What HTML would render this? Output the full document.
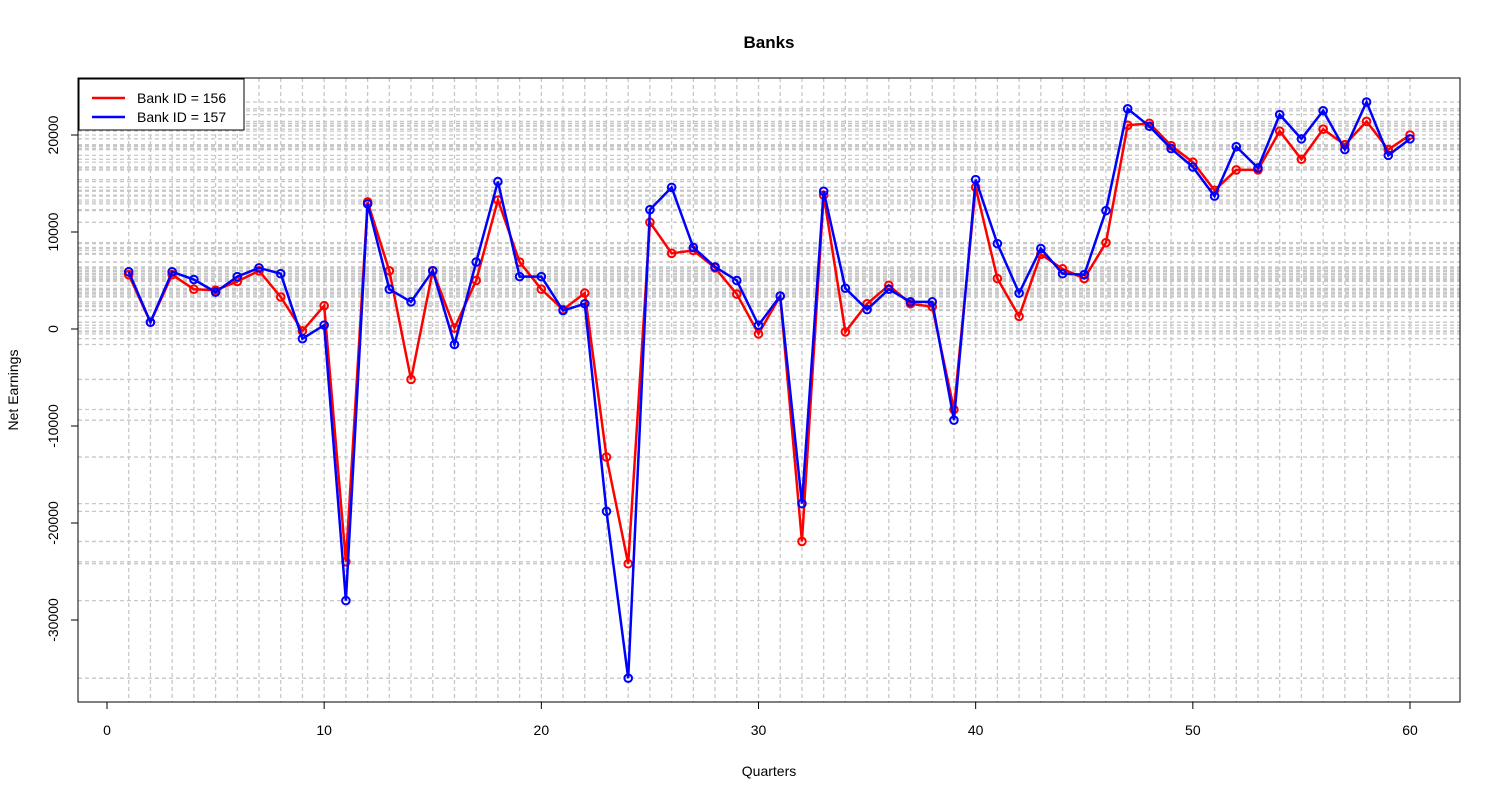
<!DOCTYPE html>
<html><head><meta charset="utf-8"><style>
body{margin:0;background:#fff;}
svg{font-family:"Liberation Sans",Arial,sans-serif;}
</style></head><body>
<svg id="chart" width="1500" height="800" xmlns="http://www.w3.org/2000/svg"></svg>
<script>
const quarters = Array.from({length:60},(_,i)=>i+1);
const bank156 = [5600,700,5600,4100,4000,4900,6000,3300,-200,2400,-24000,13100,6000,-5200,6000,100,5000,13300,6900,4100,2000,3700,-13200,-24200,11000,7800,8100,6300,3600,-500,3400,-21900,13800,-300,2600,4500,2600,2300,-8300,14600,5200,1300,7700,6200,5200,8900,21000,21200,18900,17200,14300,16400,16400,20400,17500,20600,19000,21400,18500,20000];
const bank157 = [5900,700,5900,5100,3800,5400,6300,5700,-1000,400,-28000,12900,4100,2800,6000,-1600,6900,15200,5400,5400,1900,2600,-18800,-36000,12300,14600,8400,6400,5000,400,3400,-18000,14200,4200,2000,4100,2800,2800,-9400,15400,8800,3700,8300,5700,5600,12200,22700,20900,18600,16700,13700,18800,16600,22100,19600,22500,18500,23400,17900,19600];
const xTicks = [0,10,20,30,40,50,60];
const yTicks = [-30000,-20000,-10000,0,10000,20000];

const svg = document.getElementById('chart');
const NS = 'http://www.w3.org/2000/svg';
const X = v => 107 + v*(1410-107)/60;
const Y = v => 329 - v*0.0097;
function mk(tag, attrs, parent){const e=document.createElementNS(NS,tag);for(const k in attrs)e.setAttribute(k,attrs[k]);(parent||svg).appendChild(e);return e;}

const grid = mk('g',{});


quarters.forEach(q=>{
  const l=mk('line',{x1:X(q),x2:X(q),y1:78,y2:702,stroke:'#c8c8c8','stroke-dasharray':'4,3','stroke-width':1.3},grid);
  
  
});
bank156.concat(bank157).forEach(v=>{
  const l=mk('line',{x1:78,x2:1460,y1:Y(v),y2:Y(v),stroke:'#c8c8c8','stroke-dasharray':'4,3','stroke-width':1.3},grid);
  
  
});

const box=mk('rect',{x:78,y:78,width:1382,height:624,fill:'none',stroke:'#000','stroke-width':1});



const xa=mk('g',{});


mk('line',{x1:X(0),x2:X(60),y1:702,y2:702,stroke:'#000'},xa);
xTicks.forEach(t=>{
  mk('line',{x1:X(t),x2:X(t),y1:702,y2:709,stroke:'#000'},xa);
  const tx=mk('text',{x:X(t),y:735,'text-anchor':'middle','font-size':14},xa);
  tx.textContent=t;
  
  
});
const ya=mk('g',{});


mk('line',{x1:78,x2:78,y1:Y(-30000),y2:Y(20000),stroke:'#000'},ya);
yTicks.forEach(t=>{
  mk('line',{x1:71,x2:78,y1:Y(t),y2:Y(t),stroke:'#000'},ya);
  const tx=mk('text',{x:0,y:0,'text-anchor':'middle','font-size':14,transform:`translate(58,${Y(t)}) rotate(-90)`},ya);
  tx.textContent=t;
  
  
});

function series(data,color,name){
  const g=mk('g',{});
  
  
  mk('polyline',{points:data.map((v,i)=>X(quarters[i])+','+Y(v)).join(' '),fill:'none',stroke:color,'stroke-width':2.5},g);
  data.forEach((v,i)=>{
    const c=mk('circle',{cx:X(quarters[i]),cy:Y(v),r:3.8,fill:'none',stroke:color,'stroke-width':2},g);
    
    
  });
}
series(bank156,'#ff0000','series-bank-156');
series(bank157,'#0000ff','series-bank-157');
</script>
<svg style="position:absolute;left:0;top:0" width="1500" height="800" xmlns="http://www.w3.org/2000/svg" font-family="Liberation Sans, Arial, sans-serif">
  <text x="769" y="48" text-anchor="middle" font-size="17" font-weight="bold">Banks</text>
  <text x="769" y="776" text-anchor="middle" font-size="14">Quarters</text>
  <text x="0" y="0" transform="translate(18,390) rotate(-90)" text-anchor="middle" font-size="14">Net Earnings</text>
  <g>
    <rect x="79" y="79" width="165" height="51" fill="#fff" stroke="#000"/>
    <line x1="92" x2="125" y1="98" y2="98" stroke="#ff0000" stroke-width="2.5"/>
    <text x="137" y="103" font-size="14">Bank ID = 156</text>
    <line x1="92" x2="125" y1="117" y2="117" stroke="#0000ff" stroke-width="2.5"/>
    <text x="137" y="122" font-size="14">Bank ID = 157</text>
  </g>
</svg>
</body></html>
